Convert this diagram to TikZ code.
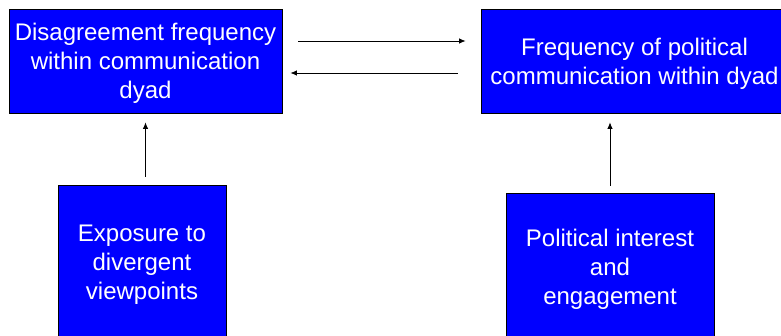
\documentclass[tikz,border=0pt]{standalone}
\usepackage{fontspec}
\setmainfont{Liberation Sans}
\usetikzlibrary{arrows.meta}
\definecolor{boxblue}{RGB}{0,0,255}
\newcommand{\boxtext}[1]{\raisebox{-3pt}[\height][\depth]{\begin{tabular}{@{}c@{}}#1\end{tabular}}}
\begin{document}
\begin{tikzpicture}[x=1pt,y=1pt,
  box/.style={draw=black,line width=0.8pt,fill=boxblue,text=white,align=center,inner sep=0pt,
    font=\fontsize{24}{29}\selectfont},
  arr/.style={line width=0.8pt,-{Latex[length=6.5pt,width=5.5pt]}}]
\path[use as bounding box] (0,0) rectangle (781,335);
\clip (0,0) rectangle (781,335);
\node[box,minimum width=273pt,minimum height=104pt] (tl) at (145.5,274) {\boxtext{Disagreement frequency\\within communication\\dyad}};
\node[box,minimum width=307pt,minimum height=104pt] (tr) at (634.5,274) {\boxtext{Frequency of political\\communication within dyad}};
\node[box,minimum width=168pt,minimum height=154pt] (bl) at (142,73) {\boxtext{Exposure to\\divergent\\viewpoints}};
\node[box,minimum width=208pt,minimum height=148pt] (br) at (610,68) {\boxtext{Political interest\\and\\engagement}};
\draw[arr] ([xshift=16pt,yshift=20pt]tl.east) -- ([xshift=-15pt,yshift=20pt]tr.west);
\draw[arr] ([xshift=-23pt,yshift=-12pt]tr.west) -- ([xshift=8pt,yshift=-12pt]tl.east);
\draw[arr] ([yshift=8pt]tl.south |- bl.north) -- ([yshift=-9pt]tl.south);
\draw[arr] ([yshift=7pt]br.north) -- ([yshift=-9pt]br.north |- tr.south);
\end{tikzpicture}
\end{document}
